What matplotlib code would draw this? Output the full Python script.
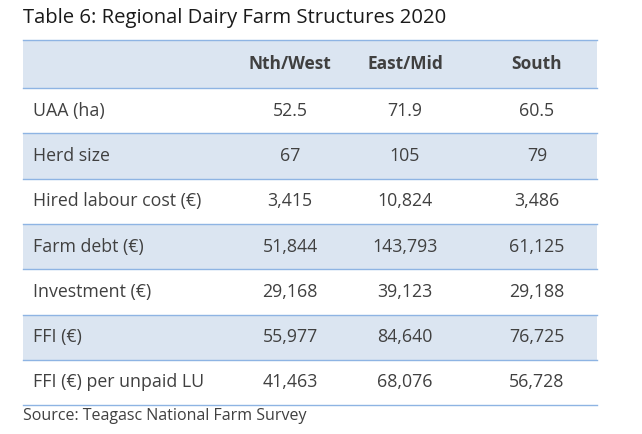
import matplotlib
matplotlib.use("Agg")
import matplotlib.pyplot as plt
from matplotlib.patches import Rectangle

title = "Table 6: Regional Dairy Farm Structures 2020"
columns = ["Nth/West", "East/Mid", "South"]
row_labels = ["UAA (ha)", "Herd size", "Hired labour cost (€)", "Farm debt (€)",
              "Investment (€)", "FFI (€)", "FFI (€) per unpaid LU"]
nth_west = ["52.5", "67", "3,415", "51,844", "29,168", "55,977", "41,463"]
east_mid = ["71.9", "105", "10,824", "143,793", "39,123", "84,640", "68,076"]
south = ["60.5", "79", "3,486", "61,125", "29,188", "76,725", "56,728"]
source = "Source: Teagasc National Farm Survey"

W, H = 642, 434
fig = plt.figure(figsize=(W/100, H/100), dpi=100)
ax = fig.add_axes([0, 0, 1, 1])
ax.set_xlim(0, W); ax.set_ylim(H, 0); ax.axis("off")

font = "Open Sans"
txt = "#404040"
blue_fill = "#dbe5f1"
line = "#8eb4e3"
x0, x1 = 23, 597
col_x = [290, 405, 537]
top, hdr_bot, rh = 40, 88, 45.3

ax.text(23, 18, title, fontsize=14.6, fontfamily=font, color="#1a1a1a", va="center")
ax.add_patch(Rectangle((x0, top), x1-x0, hdr_bot-top, color=blue_fill, lw=0))
for cx, c in zip(col_x, columns):
    ax.text(cx, (top+hdr_bot)/2, c, fontsize=12.5, fontweight="bold", fontfamily=font,
            color=txt, ha="center", va="center")
ax.plot([x0, x1], [top, top], color=line, lw=1)
for i, lab in enumerate(row_labels):
    y = hdr_bot + i*rh
    if i % 2 == 1:
        ax.add_patch(Rectangle((x0, y), x1-x0, rh, color=blue_fill, lw=0))
    ax.plot([x0, x1], [y, y], color=line, lw=1)
    yc = y + rh/2
    ax.text(33, yc, lab, fontsize=12.8, fontfamily=font, color=txt, va="center")
    for cx, v in zip(col_x, [nth_west[i], east_mid[i], south[i]]):
        ax.text(cx, yc, v, fontsize=12.8, fontfamily=font, color=txt, ha="center", va="center")
yb = hdr_bot + len(row_labels)*rh
ax.plot([x0, x1], [yb, yb], color=line, lw=1)
ax.text(23, 416, source, fontsize=11.5, fontfamily=font, color=txt, va="center")
fig.savefig("out.png", dpi=100)
